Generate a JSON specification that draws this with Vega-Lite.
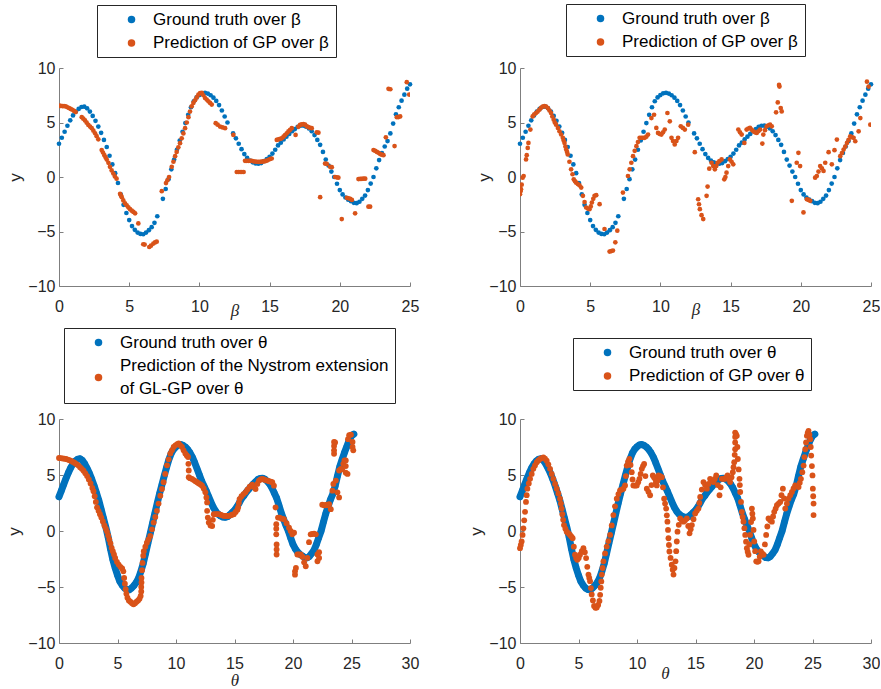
{
"$schema": "https://vega.github.io/schema/vega-lite/v6.json",
"padding": {"left": 5, "top": 3, "right": 0, "bottom": 4},
"config": {
  "view": {"stroke": null},
  "font": "Liberation Sans",
  "style": {"guide-label": {"lineHeight": 23.3}},
  "axis": {"grid": false, "domainColor": "#7f7f7f", "tickColor": "#7f7f7f", "tickSize": -4, "labelFont": "Liberation Sans", "labelFontSize": 16, "labelColor": "#262626", "titleFont": "Liberation Sans", "titleFontSize": 17, "titleColor": "#262626", "titleFontWeight": "normal", "labelFlush": false, "labelOverlap": false},
  "axisX": {"labelPadding": 16},
  "axisY": {"labelPadding": 8},
  "legend": {"orient": "none", "strokeColor": "#262626", "strokeWidth": 1, "padding": 6, "symbolType": "circle", "symbolSize": 56, "symbolStrokeWidth": 0, "symbolOffset": 20, "labelOffset": 13, "labelFont": "Liberation Sans", "labelFontSize": 17, "labelColor": "#000000", "labelLimit": 500, "rowPadding": 5.5}
},
"datasets": {
"gt": [{"x":0,"y":3.05},{"x":0.2,"y":3.6},{"x":0.4,"y":4.15},{"x":0.6,"y":4.7},{"x":0.8,"y":5.2},{"x":1.0,"y":5.65},{"x":1.2,"y":6.0},{"x":1.4,"y":6.25},{"x":1.6,"y":6.42},{"x":1.8,"y":6.45},{"x":2.0,"y":6.3},{"x":2.2,"y":6.0},{"x":2.4,"y":5.6},{"x":2.6,"y":5.15},{"x":2.8,"y":4.63},{"x":3.0,"y":4.05},{"x":3.2,"y":3.4},{"x":3.4,"y":2.75},{"x":3.6,"y":1.95},{"x":3.8,"y":1.15},{"x":4.0,"y":0.35},{"x":4.2,"y":-0.55},{"x":4.4,"y":-1.6},{"x":4.6,"y":-2.55},{"x":4.8,"y":-3.3},{"x":5.0,"y":-3.95},{"x":5.2,"y":-4.5},{"x":5.4,"y":-4.85},{"x":5.6,"y":-5.1},{"x":5.8,"y":-5.22},{"x":6.0,"y":-5.25},{"x":6.2,"y":-5.1},{"x":6.4,"y":-4.88},{"x":6.6,"y":-4.6},{"x":6.8,"y":-4.2},{"x":7.0,"y":-3.6},{"x":7.2,"y":-2.9},{"x":7.4,"y":-2.0},{"x":7.6,"y":-1.1},{"x":7.8,"y":-0.2},{"x":8.0,"y":0.7},{"x":8.2,"y":1.6},{"x":8.4,"y":2.5},{"x":8.6,"y":3.35},{"x":8.8,"y":4.15},{"x":9.0,"y":4.95},{"x":9.2,"y":5.7},{"x":9.4,"y":6.4},{"x":9.6,"y":6.95},{"x":9.8,"y":7.3},{"x":10.0,"y":7.52},{"x":10.2,"y":7.68},{"x":10.4,"y":7.72},{"x":10.6,"y":7.65},{"x":10.8,"y":7.5},{"x":11.0,"y":7.28},{"x":11.2,"y":6.98},{"x":11.4,"y":6.6},{"x":11.6,"y":6.1},{"x":11.8,"y":5.55},{"x":12.0,"y":5.0},{"x":12.2,"y":4.45},{"x":12.4,"y":4.0},{"x":12.6,"y":3.55},{"x":12.8,"y":3.05},{"x":13.0,"y":2.55},{"x":13.2,"y":2.1},{"x":13.4,"y":1.75},{"x":13.6,"y":1.5},{"x":13.8,"y":1.35},{"x":14.0,"y":1.25},{"x":14.2,"y":1.22},{"x":14.4,"y":1.28},{"x":14.6,"y":1.45},{"x":14.8,"y":1.65},{"x":15.0,"y":1.85},{"x":15.2,"y":2.15},{"x":15.4,"y":2.5},{"x":15.6,"y":2.9},{"x":15.8,"y":3.15},{"x":16.0,"y":3.45},{"x":16.2,"y":3.7},{"x":16.4,"y":3.95},{"x":16.6,"y":4.2},{"x":16.8,"y":4.4},{"x":17.0,"y":4.6},{"x":17.2,"y":4.7},{"x":17.4,"y":4.72},{"x":17.6,"y":4.62},{"x":17.8,"y":4.45},{"x":18.0,"y":4.2},{"x":18.2,"y":3.85},{"x":18.4,"y":3.4},{"x":18.6,"y":2.95},{"x":18.8,"y":2.3},{"x":19.0,"y":1.6},{"x":19.2,"y":1.05},{"x":19.4,"y":0.5},{"x":19.6,"y":0.0},{"x":19.8,"y":-0.62},{"x":20.0,"y":-1.2},{"x":20.2,"y":-1.6},{"x":20.4,"y":-1.88},{"x":20.6,"y":-2.08},{"x":20.8,"y":-2.22},{"x":21.0,"y":-2.37},{"x":21.2,"y":-2.4},{"x":21.4,"y":-2.27},{"x":21.6,"y":-2.0},{"x":21.8,"y":-1.7},{"x":22.0,"y":-1.2},{"x":22.2,"y":-0.6},{"x":22.4,"y":0.0},{"x":22.6,"y":0.8},{"x":22.8,"y":1.55},{"x":23.0,"y":2.2},{"x":23.2,"y":2.8},{"x":23.4,"y":3.3},{"x":23.6,"y":4.0},{"x":23.8,"y":4.9},{"x":24.0,"y":5.75},{"x":24.2,"y":6.4},{"x":24.4,"y":7.0},{"x":24.6,"y":7.55},{"x":24.8,"y":8.1},{"x":25.0,"y":8.5},{"x":25.2,"y":8.65}],
"tl": [{"x":0,"y":6.54},{"x":0.12,"y":6.52},{"x":0.24,"y":6.51},{"x":0.36,"y":6.5},{"x":0.48,"y":6.48},{"x":0.6,"y":6.4},{"x":0.71,"y":6.33},{"x":0.83,"y":6.25},{"x":0.95,"y":6.17},{"x":1.07,"y":6.06},{"x":1.19,"y":5.96},{"x":1.62,"y":5.49},{"x":1.73,"y":5.35},{"x":1.85,"y":5.19},{"x":1.97,"y":4.98},{"x":2.09,"y":4.78},{"x":2.21,"y":4.63},{"x":2.33,"y":4.48},{"x":2.45,"y":4.25},{"x":2.57,"y":4.01},{"x":2.68,"y":3.75},{"x":2.8,"y":3.46},{"x":3.04,"y":2.47},{"x":3.13,"y":2.25},{"x":3.23,"y":2.0},{"x":3.32,"y":1.8},{"x":3.4,"y":1.6},{"x":3.52,"y":1.3},{"x":3.63,"y":0.93},{"x":3.75,"y":0.6},{"x":3.87,"y":0.31},{"x":3.98,"y":0.05},{"x":4.1,"y":-0.15},{"x":4.35,"y":-1.54},{"x":4.41,"y":-1.7},{"x":4.47,"y":-1.85},{"x":4.58,"y":-2.15},{"x":4.7,"y":-2.41},{"x":4.82,"y":-2.6},{"x":4.94,"y":-2.78},{"x":5.06,"y":-2.95},{"x":5.18,"y":-3.09},{"x":5.3,"y":-3.2},{"x":5.42,"y":-3.33},{"x":5.65,"y":-4.26},{"x":6.0,"y":-6.17},{"x":6.1,"y":-6.2},{"x":6.43,"y":-6.42},{"x":6.55,"y":-6.3},{"x":6.72,"y":-6.11},{"x":6.84,"y":-6.0},{"x":6.96,"y":-5.93},{"x":7.32,"y":-1.3},{"x":7.62,"y":-0.56},{"x":7.72,"y":-0.3},{"x":7.84,"y":0},{"x":8.03,"y":0.93},{"x":8.15,"y":1.4},{"x":8.27,"y":1.91},{"x":8.38,"y":2.3},{"x":8.5,"y":2.72},{"x":8.62,"y":3.1},{"x":8.74,"y":3.55},{"x":8.86,"y":4.0},{"x":8.98,"y":4.48},{"x":9.1,"y":5.0},{"x":9.22,"y":5.49},{"x":9.33,"y":6.0},{"x":9.45,"y":6.48},{"x":9.57,"y":6.8},{"x":9.69,"y":7.04},{"x":9.81,"y":7.3},{"x":9.93,"y":7.56},{"x":10.05,"y":7.7},{"x":10.17,"y":7.72},{"x":10.28,"y":7.5},{"x":10.4,"y":7.25},{"x":10.52,"y":7.1},{"x":10.64,"y":6.94},{"x":10.76,"y":6.8},{"x":10.88,"y":6.64},{"x":11.16,"y":4.94},{"x":11.3,"y":4.8},{"x":11.47,"y":4.63},{"x":11.65,"y":4.55},{"x":11.83,"y":4.48},{"x":12.42,"y":3.86},{"x":12.66,"y":0.46},{"x":12.78,"y":0.46},{"x":12.9,"y":0.46},{"x":13.02,"y":0.46},{"x":13.15,"y":0.46},{"x":13.25,"y":1.48},{"x":13.37,"y":1.48},{"x":13.5,"y":1.48},{"x":13.62,"y":1.48},{"x":13.73,"y":1.48},{"x":13.85,"y":1.44},{"x":13.97,"y":1.42},{"x":14.08,"y":1.4},{"x":14.2,"y":1.39},{"x":14.32,"y":1.39},{"x":14.44,"y":1.41},{"x":14.56,"y":1.43},{"x":14.68,"y":1.45},{"x":14.8,"y":1.5},{"x":14.92,"y":1.58},{"x":15.04,"y":1.65},{"x":15.15,"y":1.7},{"x":15.51,"y":3.4},{"x":15.63,"y":3.45},{"x":15.75,"y":3.5},{"x":15.87,"y":3.55},{"x":15.99,"y":3.7},{"x":16.1,"y":3.85},{"x":16.22,"y":4.01},{"x":16.34,"y":4.18},{"x":16.46,"y":4.33},{"x":16.58,"y":4.48},{"x":16.85,"y":3.86},{"x":17.05,"y":4.6},{"x":17.17,"y":4.78},{"x":17.29,"y":4.82},{"x":17.41,"y":4.85},{"x":17.53,"y":4.8},{"x":17.65,"y":4.65},{"x":17.77,"y":4.57},{"x":17.88,"y":4.52},{"x":18.0,"y":4.48},{"x":18.36,"y":4.1},{"x":18.48,"y":4.07},{"x":18.6,"y":-1.85},{"x":18.95,"y":1.23},{"x":19.07,"y":1.2},{"x":19.31,"y":0.93},{"x":19.43,"y":0.9},{"x":19.67,"y":0},{"x":19.79,"y":-0.03},{"x":19.9,"y":-0.06},{"x":20.14,"y":-3.86},{"x":20.5,"y":-1.91},{"x":20.62,"y":-1.95},{"x":20.74,"y":-2.0},{"x":20.86,"y":-2.1},{"x":21.09,"y":-3.33},{"x":21.33,"y":-0.19},{"x":21.45,"y":-0.18},{"x":21.57,"y":-0.17},{"x":21.69,"y":-0.15},{"x":21.81,"y":-0.15},{"x":22.04,"y":-2.72},{"x":22.16,"y":-2.72},{"x":22.4,"y":2.47},{"x":22.52,"y":2.4},{"x":22.64,"y":2.3},{"x":22.76,"y":2.22},{"x":22.88,"y":2.1},{"x":23.0,"y":2.05},{"x":23.11,"y":2.0},{"x":23.28,"y":3.64},{"x":23.47,"y":8.09},{"x":23.6,"y":8.05},{"x":23.9,"y":2.84},{"x":24.06,"y":5.49},{"x":24.18,"y":5.5},{"x":24.3,"y":5.56},{"x":24.77,"y":8.7},{"x":24.94,"y":7.56}],
"tr": [{"x":0,"y":-1.58},{"x":0.04,"y":-1.3},{"x":0.07,"y":-1.12},{"x":0.12,"y":-0.7},{"x":0.19,"y":-0.06},{"x":0.26,"y":0.09},{"x":0.43,"y":1.61},{"x":0.48,"y":2.0},{"x":0.55,"y":2.67},{"x":0.6,"y":3.13},{"x":0.74,"y":4.35},{"x":0.9,"y":5.56},{"x":1.02,"y":5.75},{"x":1.14,"y":5.87},{"x":1.26,"y":6.0},{"x":1.38,"y":6.17},{"x":1.5,"y":6.35},{"x":1.62,"y":6.47},{"x":1.74,"y":6.5},{"x":1.86,"y":6.47},{"x":1.98,"y":6.32},{"x":2.1,"y":6.1},{"x":2.21,"y":5.87},{"x":2.3,"y":5.55},{"x":2.4,"y":5.26},{"x":2.48,"y":5.0},{"x":2.57,"y":4.8},{"x":2.7,"y":4.5},{"x":2.81,"y":4.19},{"x":2.93,"y":3.9},{"x":3.05,"y":3.59},{"x":3.11,"y":3.35},{"x":3.17,"y":3.13},{"x":3.23,"y":2.8},{"x":3.29,"y":2.52},{"x":3.35,"y":2.3},{"x":3.4,"y":2.07},{"x":3.52,"y":1.4},{"x":3.64,"y":0.7},{"x":3.74,"y":0.25},{"x":3.83,"y":-0.21},{"x":3.92,"y":-0.4},{"x":4.0,"y":-0.52},{"x":4.12,"y":-0.65},{"x":4.24,"y":-0.76},{"x":4.36,"y":-0.97},{"x":4.48,"y":-1.73},{"x":4.6,"y":-2.3},{"x":4.71,"y":-2.8},{"x":4.83,"y":-2.9},{"x":4.95,"y":-2.95},{"x":5.04,"y":-2.7},{"x":5.12,"y":-2.34},{"x":5.22,"y":-2.0},{"x":5.31,"y":-1.73},{"x":5.43,"y":-1.67},{"x":5.67,"y":-2.49},{"x":6.02,"y":-4.77},{"x":6.38,"y":-6.84},{"x":6.5,"y":-6.8},{"x":6.62,"y":-6.75},{"x":6.79,"y":-5.99},{"x":6.93,"y":-4.92},{"x":7.33,"y":-1.43},{"x":7.69,"y":0.09},{"x":7.81,"y":0.7},{"x":7.93,"y":1.31},{"x":8.05,"y":1.91},{"x":8.17,"y":2.4},{"x":8.29,"y":2.83},{"x":8.4,"y":3.2},{"x":8.52,"y":3.59},{"x":8.64,"y":3.6},{"x":8.76,"y":3.6},{"x":8.88,"y":3.59},{"x":9.0,"y":3.7},{"x":9.12,"y":3.89},{"x":9.36,"y":5.41},{"x":9.55,"y":5.71},{"x":9.71,"y":4.5},{"x":9.83,"y":4.04},{"x":9.95,"y":3.95},{"x":10.07,"y":3.89},{"x":10.19,"y":4.1},{"x":10.31,"y":4.35},{"x":10.5,"y":5.87},{"x":10.67,"y":5.11},{"x":10.79,"y":3.59},{"x":10.9,"y":3.3},{"x":11.02,"y":2.98},{"x":11.14,"y":3.3},{"x":11.26,"y":3.59},{"x":11.45,"y":4.65},{"x":11.6,"y":4.5},{"x":11.74,"y":4.35},{"x":11.98,"y":4.8},{"x":12.45,"y":2.28},{"x":12.69,"y":-2.04},{"x":12.75,"y":-2.5},{"x":12.81,"y":-2.95},{"x":12.93,"y":-3.5},{"x":13.05,"y":-3.86},{"x":13.29,"y":-1.73},{"x":13.36,"y":-0.88},{"x":13.48,"y":0.76},{"x":13.64,"y":1.31},{"x":13.76,"y":1.0},{"x":13.88,"y":0.7},{"x":13.98,"y":1.0},{"x":14.07,"y":1.31},{"x":14.2,"y":1.45},{"x":14.36,"y":1.61},{"x":14.55,"y":-0.21},{"x":14.63,"y":0.0},{"x":14.71,"y":0.4},{"x":14.83,"y":1.0},{"x":14.95,"y":1.61},{"x":15.07,"y":1.4},{"x":15.19,"y":1.16},{"x":15.55,"y":4.35},{"x":15.67,"y":4.1},{"x":15.79,"y":3.89},{"x":15.98,"y":3.13},{"x":16.14,"y":4.35},{"x":16.26,"y":4.45},{"x":16.38,"y":4.5},{"x":16.5,"y":4.35},{"x":16.62,"y":4.19},{"x":16.74,"y":4.1},{"x":16.86,"y":4.04},{"x":16.98,"y":4.2},{"x":17.1,"y":4.35},{"x":17.26,"y":3.07},{"x":17.33,"y":3.89},{"x":17.45,"y":4.3},{"x":17.57,"y":4.65},{"x":17.69,"y":4.75},{"x":17.81,"y":4.8},{"x":17.93,"y":4.65},{"x":18.24,"y":5.93},{"x":18.36,"y":6.84},{"x":18.45,"y":8.45},{"x":18.48,"y":8.3},{"x":18.57,"y":6.32},{"x":18.64,"y":6.02},{"x":19.36,"y":-2.19},{"x":19.71,"y":1.31},{"x":19.83,"y":2.22},{"x":19.95,"y":1.0},{"x":20.19,"y":-3.25},{"x":20.43,"y":-2.04},{"x":20.55,"y":-2.1},{"x":20.67,"y":-2.19},{"x":21.02,"y":-0.06},{"x":21.14,"y":0.09},{"x":21.26,"y":0.5},{"x":21.38,"y":1.0},{"x":21.5,"y":0.8},{"x":21.62,"y":0.55},{"x":21.74,"y":1.31},{"x":21.98,"y":2.28},{"x":22.21,"y":1.16},{"x":22.4,"y":2.46},{"x":22.57,"y":3.43},{"x":22.81,"y":1.91},{"x":22.93,"y":2.2},{"x":23.05,"y":2.52},{"x":23.17,"y":2.8},{"x":23.29,"y":3.13},{"x":23.4,"y":3.4},{"x":23.52,"y":3.74},{"x":23.64,"y":3.65},{"x":23.76,"y":3.59},{"x":23.88,"y":3.28},{"x":24.12,"y":4.19},{"x":24.24,"y":5.41},{"x":24.71,"y":8.75},{"x":24.83,"y":8.3},{"x":24.95,"y":4.8}],
"bl": [{"x":0,"y":6.52},{"x":0.15,"y":6.5},{"x":0.3,"y":6.48},{"x":0.45,"y":6.46},{"x":0.6,"y":6.43},{"x":0.75,"y":6.38},{"x":0.9,"y":6.32},{"x":1.05,"y":6.26},{"x":1.2,"y":6.17},{"x":1.35,"y":6.07},{"x":1.5,"y":5.96},{"x":1.65,"y":5.86},{"x":1.8,"y":5.7},{"x":1.95,"y":5.55},{"x":2.1,"y":5.38},{"x":2.25,"y":5.15},{"x":2.4,"y":4.9},{"x":2.55,"y":4.6},{"x":2.7,"y":4.25},{"x":2.85,"y":3.85},{"x":2.95,"y":3.55},{"x":3.05,"y":3.1},{"x":3.15,"y":2.6},{"x":3.25,"y":2.1},{"x":3.38,"y":1.8},{"x":3.5,"y":1.5},{"x":3.62,"y":1.2},{"x":3.75,"y":0.85},{"x":3.88,"y":0.5},{"x":4.0,"y":0.2},{"x":4.1,"y":-0.05},{"x":4.2,"y":-0.4},{"x":4.3,"y":-0.75},{"x":4.4,"y":-1.1},{"x":4.5,"y":-1.5},{"x":4.6,"y":-1.8},{"x":4.7,"y":-2.1},{"x":4.8,"y":-2.4},{"x":4.95,"y":-2.75},{"x":5.1,"y":-3.0},{"x":5.25,"y":-3.2},{"x":5.4,"y":-3.35},{"x":5.5,"y":-3.6},{"x":5.57,"y":-4.2},{"x":5.63,"y":-4.7},{"x":5.7,"y":-5.2},{"x":5.76,"y":-5.6},{"x":5.85,"y":-5.95},{"x":5.97,"y":-6.2},{"x":6.1,"y":-6.32},{"x":6.24,"y":-6.45},{"x":6.37,"y":-6.55},{"x":6.5,"y":-6.45},{"x":6.63,"y":-6.32},{"x":6.76,"y":-6.2},{"x":6.88,"y":-6.05},{"x":6.98,"y":-5.8},{"x":7.03,"y":-5.4},{"x":7.03,"y":-5.0},{"x":7.05,"y":-4.6},{"x":7.05,"y":-4.2},{"x":7.1,"y":-3.5},{"x":7.14,"y":-2.85},{"x":7.2,"y":-2.2},{"x":7.25,"y":-1.8},{"x":7.38,"y":-1.4},{"x":7.51,"y":-1.05},{"x":7.65,"y":-0.75},{"x":7.8,"y":-0.45},{"x":7.95,"y":0.15},{"x":8.09,"y":0.75},{"x":8.23,"y":1.25},{"x":8.37,"y":1.8},{"x":8.51,"y":2.45},{"x":8.66,"y":3.15},{"x":8.8,"y":3.75},{"x":8.94,"y":4.35},{"x":9.08,"y":5.1},{"x":9.23,"y":5.86},{"x":9.37,"y":6.4},{"x":9.51,"y":6.91},{"x":9.65,"y":7.2},{"x":9.8,"y":7.51},{"x":9.95,"y":7.65},{"x":10.1,"y":7.75},{"x":10.23,"y":7.81},{"x":10.37,"y":7.65},{"x":10.51,"y":7.51},{"x":10.65,"y":7.2},{"x":10.8,"y":6.91},{"x":10.92,"y":6.75},{"x":11.03,"y":6.61},{"x":11.06,"y":6.0},{"x":11.09,"y":5.4},{"x":11.09,"y":4.8},{"x":11.2,"y":4.72},{"x":11.37,"y":4.65},{"x":11.52,"y":4.55},{"x":11.66,"y":4.45},{"x":11.8,"y":4.35},{"x":11.95,"y":4.25},{"x":12.1,"y":4.15},{"x":12.23,"y":4.05},{"x":12.37,"y":3.8},{"x":12.51,"y":3.45},{"x":12.6,"y":3.0},{"x":12.66,"y":2.55},{"x":12.66,"y":1.8},{"x":12.72,"y":1.2},{"x":12.8,"y":0.75},{"x":12.95,"y":0.5},{"x":13.09,"y":0.45},{"x":13.15,"y":1.0},{"x":13.23,"y":1.5},{"x":13.37,"y":1.5},{"x":13.52,"y":1.5},{"x":13.66,"y":1.5},{"x":13.8,"y":1.45},{"x":13.95,"y":1.4},{"x":14.09,"y":1.35},{"x":14.23,"y":1.35},{"x":14.37,"y":1.35},{"x":14.51,"y":1.35},{"x":14.66,"y":1.4},{"x":14.8,"y":1.45},{"x":14.94,"y":1.5},{"x":15.1,"y":1.7},{"x":15.25,"y":1.9},{"x":15.31,"y":2.1},{"x":15.37,"y":2.5},{"x":15.43,"y":2.85},{"x":15.6,"y":3.1},{"x":15.77,"y":3.3},{"x":15.94,"y":3.45},{"x":16.1,"y":3.7},{"x":16.3,"y":3.95},{"x":16.51,"y":4.14},{"x":16.65,"y":3.95},{"x":16.8,"y":3.75},{"x":16.95,"y":4.2},{"x":17.09,"y":4.5},{"x":17.23,"y":4.6},{"x":17.37,"y":4.65},{"x":17.52,"y":4.6},{"x":17.66,"y":4.55},{"x":17.8,"y":4.5},{"x":17.95,"y":4.45},{"x":18.1,"y":4.4},{"x":18.23,"y":4.35},{"x":18.37,"y":4.05},{"x":18.51,"y":2.1},{"x":18.57,"y":0.6},{"x":18.57,"y":0.2},{"x":18.57,"y":-0.3},{"x":18.6,"y":-1.2},{"x":18.6,"y":-1.65},{"x":18.6,"y":-2.1},{"x":18.72,"y":1.2},{"x":18.86,"y":1.2},{"x":19.05,"y":1.1},{"x":19.23,"y":1.05},{"x":19.45,"y":0.7},{"x":19.66,"y":0.3},{"x":19.8,"y":0.0},{"x":19.94,"y":-0.3},{"x":20.09,"y":-0.15},{"x":20.17,"y":-3.6},{"x":20.17,"y":-3.9},{"x":20.25,"y":-3.3},{"x":20.37,"y":-2.1},{"x":20.5,"y":-2.1},{"x":20.66,"y":-2.1},{"x":20.8,"y":-2.3},{"x":20.95,"y":-2.8},{"x":21.09,"y":-3.15},{"x":21.23,"y":-2.4},{"x":21.37,"y":-1.0},{"x":21.51,"y":-0.3},{"x":21.65,"y":-0.27},{"x":21.8,"y":-0.24},{"x":21.95,"y":-0.3},{"x":22.09,"y":-2.1},{"x":22.09,"y":-2.7},{"x":22.23,"y":-2.4},{"x":22.23,"y":-1.9},{"x":22.5,"y":2.35},{"x":22.65,"y":2.3},{"x":22.8,"y":2.3},{"x":22.9,"y":2.35},{"x":23.0,"y":2.3},{"x":23.09,"y":2.4},{"x":23.23,"y":1.95},{"x":23.37,"y":3.6},{"x":23.45,"y":4.2},{"x":23.51,"y":6.9},{"x":23.51,"y":7.2},{"x":23.51,"y":7.6},{"x":23.51,"y":7.95},{"x":23.6,"y":7.9},{"x":23.66,"y":4.5},{"x":23.8,"y":3.45},{"x":23.94,"y":3.0},{"x":23.94,"y":5.4},{"x":24.09,"y":5.55},{"x":24.2,"y":5.5},{"x":24.3,"y":6.0},{"x":24.4,"y":6.3},{"x":24.51,"y":6.3},{"x":24.51,"y":5.8},{"x":24.51,"y":5.2},{"x":24.66,"y":5.1},{"x":24.7,"y":8.2},{"x":24.8,"y":8.55},{"x":24.95,"y":8.6},{"x":25.09,"y":7.95},{"x":25.09,"y":7.5},{"x":25.15,"y":7.2}],
"br": [{"x":0,"y":-1.53},{"x":0.07,"y":-1.25},{"x":0.14,"y":-0.94},{"x":0.22,"y":-0.35},{"x":0.29,"y":0.24},{"x":0.36,"y":0.95},{"x":0.43,"y":1.71},{"x":0.51,"y":2.6},{"x":0.57,"y":3.2},{"x":0.63,"y":3.78},{"x":0.75,"y":4.25},{"x":0.86,"y":4.66},{"x":1.0,"y":5.1},{"x":1.14,"y":5.55},{"x":1.28,"y":5.85},{"x":1.43,"y":6.14},{"x":1.57,"y":6.3},{"x":1.71,"y":6.43},{"x":1.85,"y":6.5},{"x":2.0,"y":6.58},{"x":2.14,"y":6.45},{"x":2.28,"y":6.28},{"x":2.42,"y":5.95},{"x":2.57,"y":5.55},{"x":2.71,"y":5.1},{"x":2.85,"y":4.66},{"x":3.0,"y":4.2},{"x":3.14,"y":3.78},{"x":3.28,"y":3.35},{"x":3.42,"y":2.89},{"x":3.5,"y":2.45},{"x":3.56,"y":2.0},{"x":3.62,"y":1.5},{"x":3.69,"y":1.0},{"x":3.76,"y":0.53},{"x":3.88,"y":0.2},{"x":3.99,"y":-0.06},{"x":4.14,"y":-0.2},{"x":4.28,"y":-0.35},{"x":4.4,"y":-0.5},{"x":4.5,"y":-0.65},{"x":4.6,"y":-1.4},{"x":4.7,"y":-2.12},{"x":4.8,"y":-2.4},{"x":4.9,"y":-2.57},{"x":5.02,"y":-2.4},{"x":5.13,"y":-2.12},{"x":5.28,"y":-1.8},{"x":5.42,"y":-1.53},{"x":5.54,"y":-1.9},{"x":5.65,"y":-2.42},{"x":5.75,"y":-3.2},{"x":5.85,"y":-3.89},{"x":5.92,"y":-4.2},{"x":5.99,"y":-4.48},{"x":6.06,"y":-5.1},{"x":6.13,"y":-5.66},{"x":6.23,"y":-6.2},{"x":6.33,"y":-6.7},{"x":6.45,"y":-6.85},{"x":6.56,"y":-6.84},{"x":6.68,"y":-6.6},{"x":6.79,"y":-6.25},{"x":6.85,"y":-5.7},{"x":6.9,"y":-5.07},{"x":6.95,"y":-4.5},{"x":6.99,"y":-3.89},{"x":7.06,"y":-3.3},{"x":7.13,"y":-2.71},{"x":7.27,"y":-2.0},{"x":7.41,"y":-1.39},{"x":7.55,"y":-0.9},{"x":7.7,"y":-0.35},{"x":7.84,"y":0.5},{"x":7.98,"y":1.42},{"x":8.12,"y":2.2},{"x":8.27,"y":2.89},{"x":8.41,"y":3.3},{"x":8.55,"y":3.63},{"x":8.7,"y":3.7},{"x":8.84,"y":3.78},{"x":8.98,"y":4.07},{"x":9.05,"y":4.9},{"x":9.12,"y":5.84},{"x":9.24,"y":6.2},{"x":9.35,"y":6.43},{"x":9.45,"y":5.9},{"x":9.55,"y":5.25},{"x":9.62,"y":4.6},{"x":9.69,"y":4.07},{"x":9.84,"y":4.05},{"x":9.98,"y":4.07},{"x":10.1,"y":4.35},{"x":10.21,"y":4.66},{"x":10.31,"y":5.1},{"x":10.41,"y":5.55},{"x":10.51,"y":5.8},{"x":10.61,"y":5.99},{"x":10.72,"y":4.9},{"x":10.84,"y":3.78},{"x":10.98,"y":3.5},{"x":11.12,"y":3.19},{"x":11.24,"y":4.1},{"x":11.35,"y":4.96},{"x":11.45,"y":4.8},{"x":11.55,"y":4.66},{"x":11.62,"y":4.35},{"x":11.69,"y":4.07},{"x":11.76,"y":4.5},{"x":11.83,"y":4.96},{"x":11.98,"y":4.9},{"x":12.12,"y":4.81},{"x":12.22,"y":3.9},{"x":12.32,"y":2.89},{"x":12.4,"y":2.45},{"x":12.49,"y":2.0},{"x":12.55,"y":1.4},{"x":12.6,"y":0.83},{"x":12.65,"y":0.1},{"x":12.69,"y":-0.65},{"x":12.73,"y":-1.25},{"x":12.77,"y":-1.83},{"x":12.87,"y":-2.4},{"x":12.97,"y":-3.01},{"x":13.05,"y":-3.45},{"x":13.12,"y":-3.89},{"x":13.2,"y":-3.3},{"x":13.29,"y":-2.71},{"x":13.35,"y":-1.8},{"x":13.4,"y":-0.94},{"x":13.46,"y":-0.06},{"x":13.57,"y":0.55},{"x":13.69,"y":1.12},{"x":13.83,"y":0.95},{"x":13.97,"y":0.83},{"x":14.11,"y":0.95},{"x":14.26,"y":1.12},{"x":14.38,"y":0.45},{"x":14.49,"y":-0.21},{"x":14.59,"y":0.15},{"x":14.69,"y":0.53},{"x":14.83,"y":1.05},{"x":14.97,"y":1.56},{"x":15.11,"y":1.8},{"x":15.25,"y":2.0},{"x":15.33,"y":2.5},{"x":15.4,"y":3.04},{"x":15.54,"y":3.7},{"x":15.68,"y":4.37},{"x":15.82,"y":4.1},{"x":15.97,"y":3.78},{"x":16.11,"y":4.2},{"x":16.25,"y":4.66},{"x":16.4,"y":4.5},{"x":16.54,"y":4.37},{"x":16.65,"y":4.65},{"x":16.77,"y":4.96},{"x":16.91,"y":4.1},{"x":17.05,"y":3.19},{"x":17.15,"y":3.9},{"x":17.25,"y":4.66},{"x":17.4,"y":4.66},{"x":17.54,"y":4.66},{"x":17.64,"y":4.8},{"x":17.74,"y":4.96},{"x":17.85,"y":4.65},{"x":17.96,"y":4.37},{"x":18.08,"y":4.8},{"x":18.19,"y":5.25},{"x":18.25,"y":5.7},{"x":18.31,"y":6.14},{"x":18.35,"y":6.8},{"x":18.39,"y":7.3},{"x":18.39,"y":7.9},{"x":18.39,"y":8.4},{"x":18.39,"y":8.79},{"x":18.46,"y":8.65},{"x":18.53,"y":8.5},{"x":18.58,"y":7.5},{"x":18.62,"y":6.43},{"x":18.69,"y":5.5},{"x":18.76,"y":4.66},{"x":18.79,"y":4.1},{"x":18.82,"y":3.48},{"x":18.89,"y":2.6},{"x":18.96,"y":1.71},{"x":19.03,"y":1.25},{"x":19.1,"y":0.83},{"x":19.18,"y":0.25},{"x":19.25,"y":-0.35},{"x":19.32,"y":-0.95},{"x":19.39,"y":-1.53},{"x":19.46,"y":-1.85},{"x":19.53,"y":-2.12},{"x":19.6,"y":-1.2},{"x":19.67,"y":-0.35},{"x":19.75,"y":0.8},{"x":19.82,"y":2.0},{"x":19.86,"y":1.55},{"x":19.9,"y":1.12},{"x":19.96,"y":0.1},{"x":20.02,"y":-0.94},{"x":20.1,"y":-1.8},{"x":20.19,"y":-2.71},{"x":20.29,"y":-2.75},{"x":20.39,"y":-2.71},{"x":20.49,"y":-2.3},{"x":20.59,"y":-1.83},{"x":20.7,"y":-2.0},{"x":20.82,"y":-2.12},{"x":20.93,"y":-1.2},{"x":21.04,"y":-0.35},{"x":21.14,"y":0.4},{"x":21.24,"y":1.12},{"x":21.38,"y":0.95},{"x":21.53,"y":0.83},{"x":21.63,"y":1.3},{"x":21.73,"y":1.71},{"x":21.85,"y":2.0},{"x":21.96,"y":2.3},{"x":22.1,"y":2.45},{"x":22.24,"y":2.6},{"x":22.35,"y":3.2},{"x":22.47,"y":3.78},{"x":22.57,"y":2.9},{"x":22.67,"y":2.0},{"x":22.81,"y":2.45},{"x":22.95,"y":2.89},{"x":23.1,"y":3.2},{"x":23.24,"y":3.48},{"x":23.38,"y":3.8},{"x":23.52,"y":4.07},{"x":23.67,"y":4.0},{"x":23.81,"y":3.92},{"x":23.91,"y":4.3},{"x":24.01,"y":4.66},{"x":24.13,"y":5.25},{"x":24.24,"y":5.84},{"x":24.31,"y":6.6},{"x":24.38,"y":7.3},{"x":24.45,"y":7.9},{"x":24.52,"y":8.5},{"x":24.59,"y":8.75},{"x":24.66,"y":8.94},{"x":24.74,"y":8.6},{"x":24.81,"y":8.2},{"x":24.85,"y":7.5},{"x":24.89,"y":6.73},{"x":24.95,"y":5.8},{"x":25.0,"y":4.96},{"x":25.03,"y":3.78},{"x":25.06,"y":3.1},{"x":25.09,"y":2.45},{"x":25.09,"y":1.42}]
},
"columns": 2,
"spacing": {"row": 133, "column": 110},
"bounds": "flush",
"resolve": {"scale": {"color": "independent", "fill": "independent"}},
"concat": [
 {"width": 351, "height": 218,
  "layer": [
   {"data": {"name": "gt"}, "transform": [{"filter": "datum.x != 7.2 && datum.x != 12.2 && datum.x <= 25"}],
    "mark": {"type": "circle", "size": 22, "opacity": 1},
    "encoding": {
     "x": {"field": "x", "type": "quantitative", "scale": {"domain": [0, 25], "nice": false, "zero": false}, "axis": {"values": [0,5,10,15,20,25], "title": "β", "titleFont": "Liberation Serif", "titleFontStyle": "italic", "titleY": 29, "titleBaseline": "alphabetic"}},
     "y": {"field": "y", "type": "quantitative", "scale": {"domain": [-10, 10], "nice": false}, "axis": {"values": [-10,-5,0,5,10], "title": "y", "titleX": -39, "titleBaseline": "alphabetic"}},
     "color": {"datum": "Ground truth over β", "type": "nominal", "scale": {"domain": ["Ground truth over β", "Prediction of GP over β"], "range": ["#0072BD", "#D95319"]}, "legend": {"title": null, "legendX": 38, "legendY": -63, "fillColor": "#ffffff"}}
    }},
   {"data": {"name": "tl"}, "mark": {"type": "circle", "size": 22, "opacity": 1, "clip": true},
    "encoding": {"x": {"field": "x", "type": "quantitative"}, "y": {"field": "y", "type": "quantitative"}, "color": {"datum": "Prediction of GP over β", "type": "nominal"}}}
  ]},
 {"width": 351, "height": 218,
  "layer": [
   {"data": {"name": "gt"}, "transform": [{"filter": "datum.x != 7.2 && datum.x != 12.2 && datum.x <= 25"}],
    "mark": {"type": "circle", "size": 22, "opacity": 1},
    "encoding": {
     "x": {"field": "x", "type": "quantitative", "scale": {"domain": [0, 25], "nice": false, "zero": false}, "axis": {"values": [0,5,10,15,20,25], "title": "β", "titleFont": "Liberation Serif", "titleFontStyle": "italic", "titleY": 28, "titleBaseline": "alphabetic"}},
     "y": {"field": "y", "type": "quantitative", "scale": {"domain": [-10, 10], "nice": false}, "axis": {"values": [-10,-5,0,5,10], "title": "y", "titleX": -31, "titleBaseline": "alphabetic"}},
     "color": {"datum": "Ground truth over β", "type": "nominal", "scale": {"domain": ["Ground truth over β", "Prediction of GP over β"], "range": ["#0072BD", "#D95319"]}, "legend": {"title": null, "legendX": 46, "legendY": -64, "fillColor": "#ffffff"}}
    }},
   {"data": {"name": "tr"}, "mark": {"type": "circle", "size": 22, "opacity": 1, "clip": true},
    "encoding": {"x": {"field": "x", "type": "quantitative"}, "y": {"field": "y", "type": "quantitative"}, "color": {"datum": "Prediction of GP over β", "type": "nominal"}}}
  ]},
 {"width": 351, "height": 224,
  "layer": [
   {"data": {"name": "gt"},
    "mark": {"type": "line", "color": "#0072BD", "strokeWidth": 7, "strokeCap": "round", "strokeJoin": "round"},
    "encoding": {
     "x": {"field": "x", "type": "quantitative", "scale": {"domain": [0, 30], "nice": false, "zero": false}, "axis": {"values": [0,5,10,15,20,25,30], "title": "θ", "titleFont": "Liberation Serif", "titleFontStyle": "italic", "titleY": 42, "titleBaseline": "alphabetic"}},
     "y": {"field": "y", "type": "quantitative", "scale": {"domain": [-10, 10], "nice": false}, "axis": {"values": [-10,-5,0,5,10], "title": "y", "titleX": -40, "titleBaseline": "alphabetic"}}
    }},
   {"data": {"name": "gt"}, "mark": {"type": "circle", "size": 40, "opacity": 1},
    "encoding": {"x": {"field": "x", "type": "quantitative"}, "y": {"field": "y", "type": "quantitative"},
     "color": {"datum": "Ground truth over θ", "type": "nominal", "scale": {"domain": ["Ground truth over θ"], "range": ["#0072BD"]}, "legend": {"title": null, "legendX": 5, "legendY": -91, "strokeColor": "transparent"}}}},
   {"data": {"name": "bl"}, "mark": {"type": "circle", "size": 34, "opacity": 1},
    "encoding": {"x": {"field": "x", "type": "quantitative"}, "y": {"field": "y", "type": "quantitative"},
     "fill": {"datum": "Prediction of the Nystrom extension of GL-GP over θ", "type": "nominal", "scale": {"domain": ["Prediction of the Nystrom extension of GL-GP over θ"], "range": ["#D95319"]}, "legend": {"title": " ", "titleFontSize": 17, "titlePadding": 18, "legendX": 5, "legendY": -91, "labelBaseline": "line-bottom", "labelExpr": "['Prediction of the Nystrom extension', 'of GL-GP over θ']"}}}}
  ]},
 {"width": 351, "height": 224,
  "layer": [
   {"data": {"name": "gt"},
    "mark": {"type": "line", "color": "#0072BD", "strokeWidth": 7, "strokeCap": "round", "strokeJoin": "round"},
    "encoding": {
     "x": {"field": "x", "type": "quantitative", "scale": {"domain": [0, 30], "nice": false, "zero": false}, "axis": {"values": [0,5,10,15,20,25,30], "title": "θ", "titleFont": "Liberation Serif", "titleFontStyle": "italic", "titleY": 35, "titleX": 145, "titleBaseline": "alphabetic"}},
     "y": {"field": "y", "type": "quantitative", "scale": {"domain": [-10, 10], "nice": false}, "axis": {"values": [-10,-5,0,5,10], "title": "y", "titleX": -39, "titleBaseline": "alphabetic"}}
    }},
   {"data": {"name": "gt"}, "mark": {"type": "circle", "size": 40, "opacity": 1},
    "encoding": {"x": {"field": "x", "type": "quantitative"}, "y": {"field": "y", "type": "quantitative"},
     "color": {"datum": "Ground truth over θ", "type": "nominal", "scale": {"domain": ["Ground truth over θ", "Prediction of GP over θ"], "range": ["#0072BD", "#D95319"]}, "legend": {"title": null, "legendX": 53, "legendY": -81, "fillColor": "#ffffff"}}}},
   {"data": {"name": "br"}, "mark": {"type": "circle", "size": 34, "opacity": 1},
    "encoding": {"x": {"field": "x", "type": "quantitative"}, "y": {"field": "y", "type": "quantitative"}, "color": {"datum": "Prediction of GP over θ", "type": "nominal"}}}
  ]}
]
}
